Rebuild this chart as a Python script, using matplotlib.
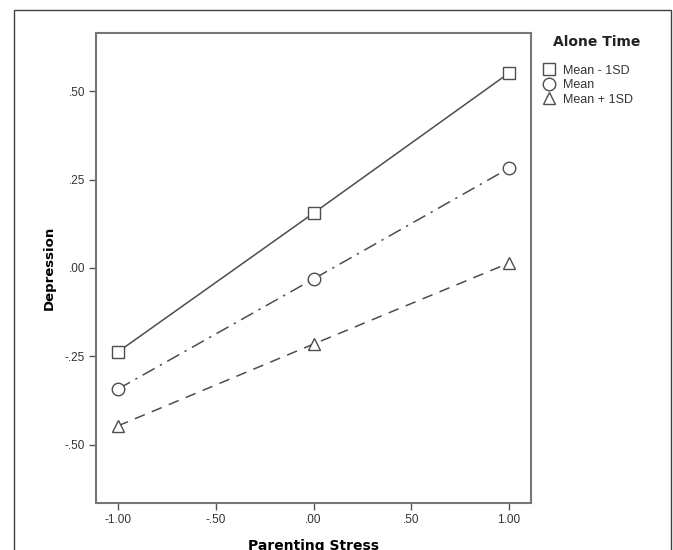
import matplotlib.pyplot as plt
from matplotlib.lines import Line2D
from matplotlib.patches import Rectangle

# data
stress = [-1.0, 0.0, 1.0]
low_alone = [-0.237, 0.155, 0.551]     # Mean - 1SD
mean_alone = [-0.342, -0.031, 0.282]   # Mean
high_alone = [-0.446, -0.215, 0.014]   # Mean + 1SD

series_names = ["Mean - 1SD", "Mean", "Mean + 1SD"]
x_ticks = [-1.0, -0.5, 0.0, 0.5, 1.0]
x_labels = ["-1.00", "-.50", ".00", ".50", "1.00"]
y_ticks = [-0.5, -0.25, 0.0, 0.25, 0.5]
y_labels = ["-.50", "-.25", ".00", ".25", ".50"]

plt.rcParams['font.family'] = ['Liberation Sans', 'DejaVu Sans']

fig = plt.figure(figsize=(6.73, 5.5), dpi=100)

# outer frame around the whole chart
fig.patches.append(Rectangle((14 / 673, -0.1), 0.997 - 14 / 673, 1.1 - 10 / 550,
                             transform=fig.transFigure, fill=False,
                             edgecolor='#404040', linewidth=1.0))

ax = fig.add_axes([96 / 673, 1 - 503 / 550, 435 / 673, 470 / 550])

line_col = '#4d4d4d'
mk = dict(markerfacecolor='white', markeredgecolor=line_col, markeredgewidth=1.0)

ax.plot(stress, low_alone, color=line_col, lw=1.1, linestyle='-',
        marker='s', markersize=8.5, **mk)
ax.plot(stress, mean_alone, color=line_col, lw=1.1,
        dashes=(9, 4, 1.5, 4), marker='o', markersize=9, **mk)
ax.plot(stress, high_alone, color=line_col, lw=1.1,
        dashes=(7, 5), marker='^', markersize=8, **mk)

ax.set_xlim(-1.1125, 1.1125)
ax.set_ylim(-0.664, 0.664)
ax.set_xticks(x_ticks)
ax.set_xticklabels(x_labels)
ax.set_yticks(y_ticks)
ax.set_yticklabels(y_labels)
ax.tick_params(direction='out', length=5, width=1, color='#555555',
               labelsize=8.5, labelcolor='#333333', pad=3)

for s in ax.spines.values():
    s.set_color('#777777')
    s.set_linewidth(1.5)

ax.set_xlabel("Parenting Stress", fontsize=10, fontweight='bold',
              family=['DejaVu Sans'], labelpad=9)
ax.set_ylabel("Depression", fontsize=9.5, fontweight='bold',
              family=['DejaVu Sans'], labelpad=6)

# legend title drawn separately so the gap to the entries matches
fig.text(553 / 673, 1 - 42 / 550, "Alone Time", fontsize=10, fontweight='bold',
         family=['DejaVu Sans'], color='#222222', va='center', ha='left')

handles = [
    Line2D([], [], linestyle='none', marker='s', markersize=9, **mk),
    Line2D([], [], linestyle='none', marker='o', markersize=9, **mk),
    Line2D([], [], linestyle='none', marker='^', markersize=8, **mk),
]
leg = fig.legend(handles, series_names, loc='upper left',
                 bbox_to_anchor=(534 / 673, 1 - 56 / 550), frameon=False,
                 fontsize=9, handlelength=1.0, labelcolor='#333333',
                 handletextpad=0.6, labelspacing=0.2, borderpad=0.2)

fig.savefig('out.png', dpi=100)
